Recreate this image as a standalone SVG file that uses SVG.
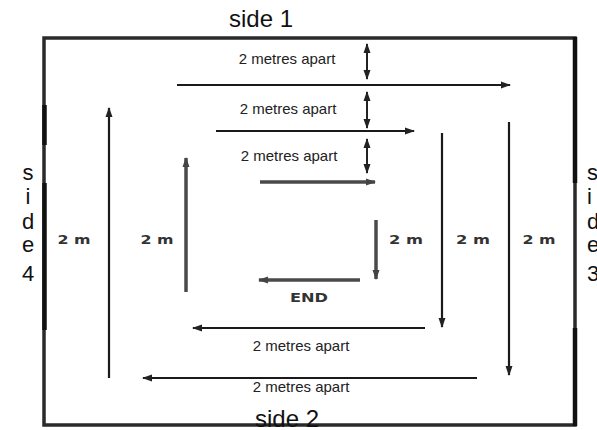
<svg xmlns="http://www.w3.org/2000/svg" width="597" height="430" viewBox="0 0 597 430">
<defs>
<marker id="ah" markerUnits="userSpaceOnUse" markerWidth="10" markerHeight="8" refX="9" refY="4" orient="auto-start-reverse" viewBox="0 0 10 8">
<path d="M0,0.5 L10,4 L0,7.5 z" fill="#222"/>
</marker>
<marker id="ahg" markerUnits="userSpaceOnUse" markerWidth="10" markerHeight="8" refX="9" refY="4" orient="auto-start-reverse" viewBox="0 0 10 8">
<path d="M0,0.5 L10,4 L0,7.5 z" fill="#444"/>
</marker>
</defs>
<style>
.side{font-family:"Liberation Sans",Arial,sans-serif;font-size:24px;fill:#111}
.sv{font-family:"Liberation Sans",Arial,sans-serif;font-size:22px;fill:#111}
.lab{font-family:"Liberation Sans",Arial,sans-serif;font-size:15px;fill:#222;text-anchor:middle}
.m{font-family:"DejaVu Sans",sans-serif;font-size:12px;font-weight:bold;fill:#333;text-anchor:middle}
.ln{stroke:#1a1a1a;stroke-width:2.2;fill:none;marker-end:url(#ah)}
.gl{stroke:#4a4a4a;stroke-width:3.5;fill:none;marker-end:url(#ahg)}
.dbl{stroke:#222;stroke-width:2;fill:none;marker-start:url(#ah);marker-end:url(#ah)}
.bd{stroke:#2a2a2a;stroke-width:3.5;fill:none}
.bk{stroke:#111;stroke-width:4.5}
</style>
<rect width="597" height="430" fill="#fff"/>
<g id="border">
<rect class="bd" x="44" y="38" width="531" height="387"/>
<line class="bk" x1="44.5" y1="105" x2="44.5" y2="145"/>
<line class="bk" x1="44.5" y1="183" x2="44.5" y2="330"/>
<line class="bk" x1="575" y1="37" x2="575" y2="183"/>
<line class="bk" x1="575" y1="328" x2="575" y2="426"/>
</g>
<g id="side1"><text class="side" x="261" y="27" text-anchor="middle">side 1</text></g>
<g id="side2"><text class="side" x="287" y="427" text-anchor="middle">side 2</text></g>
<g id="side4" class="sv" text-anchor="middle">
<text x="28" y="180">s</text><text x="28" y="204">i</text><text x="28" y="229">d</text><text x="28" y="252">e</text><text x="28" y="281">4</text>
</g>
<g id="side3" class="sv" text-anchor="start">
<text x="587" y="180">s</text><text x="587" y="204">i</text><text x="587" y="229">d</text><text x="587" y="252">e</text><text x="587" y="281">3</text>
</g>
<g id="labels-top">
<text class="lab" x="287" y="64">2 metres apart</text>
<text class="lab" x="288" y="114">2 metres apart</text>
<text class="lab" x="289" y="161">2 metres apart</text>
</g>
<g id="labels-bottom">
<text class="lab" x="301" y="351">2 metres apart</text>
<text class="lab" x="301" y="392">2 metres apart</text>
</g>
<g id="labels-2m">
<text class="m" x="74" y="244" textLength="33" lengthAdjust="spacingAndGlyphs">2 m</text>
<text class="m" x="157" y="244" textLength="33" lengthAdjust="spacingAndGlyphs">2 m</text>
<text class="m" x="406" y="244" textLength="34" lengthAdjust="spacingAndGlyphs">2 m</text>
<text class="m" x="473" y="244" textLength="34" lengthAdjust="spacingAndGlyphs">2 m</text>
<text class="m" x="539" y="244" textLength="33" lengthAdjust="spacingAndGlyphs">2 m</text>
</g>
<g id="end"><text class="m" x="309" y="302" font-size="11" textLength="38" lengthAdjust="spacingAndGlyphs">END</text></g>
<g id="connectors">
<line class="ln" x1="177" y1="85" x2="510" y2="85"/>
<line class="ln" x1="216" y1="131" x2="414" y2="131"/>
<line class="gl" x1="260" y1="182" x2="375" y2="182"/>
<line class="gl" x1="376" y1="220" x2="376" y2="279"/>
<line class="gl" x1="360" y1="280" x2="259" y2="280"/>
<line class="ln" x1="442" y1="133" x2="442" y2="327"/>
<line class="ln" x1="509" y1="122" x2="509" y2="375"/>
<line class="ln" x1="425" y1="328" x2="193" y2="328"/>
<line class="ln" x1="477" y1="378" x2="143" y2="378"/>
<line class="ln" x1="109" y1="378" x2="109" y2="108"/>
<line class="gl" x1="186" y1="292" x2="186" y2="158"/>
<line class="dbl" x1="367" y1="44" x2="367" y2="79"/>
<line class="dbl" x1="367" y1="92" x2="367" y2="128"/>
<line class="dbl" x1="367" y1="139" x2="367" y2="173"/>
</g>
</svg>
